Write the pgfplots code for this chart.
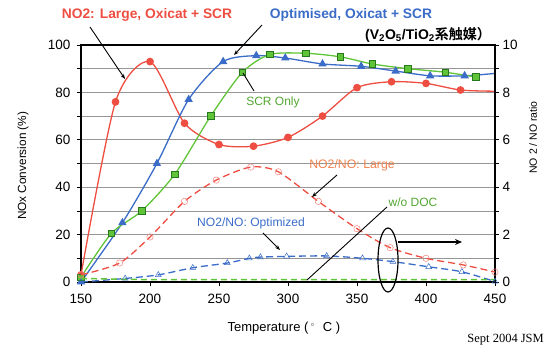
\documentclass[border=0pt]{standalone}
\usepackage{pgfplots}
\pgfplotsset{compat=1.18}
\usepackage{fontspec}
\setmainfont{Liberation Sans}
\newfontfamily\serifft{Liberation Serif}
\newfontfamily\cjk{Noto Sans CJK JP}[BoldFont={Noto Sans CJK JP Bold}]
\usetikzlibrary{arrows.meta}
\definecolor{cRed}{RGB}{238,78,66}
\definecolor{cBlue}{RGB}{58,108,200}
\definecolor{cGreen}{RGB}{96,196,56}
\definecolor{cGreenD}{RGB}{40,120,30}
\definecolor{cOrange}{RGB}{240,130,80}
\definecolor{cGrid}{RGB}{150,150,150}
\begin{document}
\begin{tikzpicture}[x=1pt,y=1pt]
\pgfplotsset{
  base/.style={
    scale only axis, width=414pt, height=237pt,
    at={(81pt,65pt)}, anchor=south west,
    xmin=150, xmax=450,
    /pgf/number format/assume math mode=true,
    ticklabel style={font=\fontsize{13.5}{15}\selectfont},
  }
}
\begin{axis}[base,
  ymin=0, ymax=100,
  axis line style={line width=1.4pt},
  xtick={150,200,...,450},
  ytick={0,20,...,100},
  minor ytick={10,30,...,90},
  ymajorgrids, yminorgrids,
  major grid style={cGrid, line width=0.7pt},
  minor grid style={cGrid, line width=0.7pt},
  tick style={black, line width=0.6pt},
  ytick pos=left, xtick pos=bottom,
  tick align=outside,
  major tick length=4pt, minor tick length=4pt,
  xticklabel style={yshift=-5pt},
  yticklabel style={xshift=-3pt},
  xlabel={Temperature (\,\raisebox{0.35ex}{\fontsize{8}{9}\selectfont$^{\circ}$}\,\, C )},
  ylabel={NOx Conversion (\%)},
  xlabel style={font=\fontsize{13}{15}\selectfont, at={(axis description cs:0.49,-0.195)}, anchor=center},
  ylabel style={font=\fontsize{11.8}{13}\selectfont, at={(axis description cs:-0.14,0.49)}, anchor=center},
  clip=false,
]
% Red solid: NO2 Large
\addplot[cRed, line width=1.3pt, smooth, tension=0.45, mark=*, mark size=3.2pt,
  mark indices={1,2,3,4,5,6,7,8,9,10,11,12}] coordinates {
(150,3) (175,76) (200,93) (225,67) (250,58) (275,57.3) (300,61) (325,70)
(350,82) (375,84.5) (400,83.8) (425,81) (450,80.5)};
% Blue solid: Optimised
\addplot[cBlue, line width=1.3pt, smooth, tension=0.45, mark=triangle*, mark size=3.6pt,
  mark indices={1,2,3,4,5,6,7,8,9,10,11,12}] coordinates {
(150,0) (180,25) (205,50) (228,77) (253,93) (277,95.5) (298,94.5) (325,92)
(353,91) (378,89) (403,87) (428,87) (450,88)};
% Green solid: SCR only
\addplot[cGreen, line width=1.3pt, smooth, tension=0.45, mark=square*, mark size=3.3pt,
  mark options={draw=cGreenD, fill=cGreen, line width=0.6pt}] coordinates {
(150,2) (172,20.5) (194,30) (218,45.5) (244,70) (267,88.5) (287,96) (313,96.5)
(338,95) (361,92) (387,90) (414,88.5) (436,86.5)};
\end{axis}
\begin{axis}[base,
  ymin=0, ymax=10,
  axis x line=none,
  axis y line*=right,
  axis line style={line width=1.4pt},
  ytick={0,2,...,10},
  minor ytick={1,3,...,9},
  tick style={black, line width=0.6pt},
  tick align=outside,
  major tick length=4pt, minor tick length=4pt,
  ylabel={NO 2 / NO ratio},
  ylabel style={font=\fontsize{10.5}{12}\selectfont, at={(axis description cs:1.092,0.61)}, anchor=center},
  clip=false,
]
% Red dashed: NO2/NO Large
\addplot[cRed, line width=1.3pt, dash pattern=on 7pt off 4pt, smooth, tension=0.45,
  mark=o, mark size=3.2pt, mark options={solid, line width=0.5pt, draw=cRed!70}] coordinates {
(150,0.3) (178,0.8) (200,1.9) (225,3.4) (248,4.3) (273,4.85) (293,4.65) (322,3.4)
(350,2.25) (374,1.45) (400,1.0) (427,0.72) (450,0.42)};
% Blue dashed: NO2/NO Optimized
\addplot[cBlue, line width=1.3pt, dash pattern=on 7pt off 4pt, smooth, tension=0.45,
  mark=triangle, mark size=3.4pt, mark options={solid, line width=0.5pt}] coordinates {
(150,0) (182,0.15) (206,0.3) (231,0.6) (256,0.8) (272,1.0) (280,1.05) (299,1.08)
(328,1.1) (354,1.0) (376,0.86) (402,0.64) (426,0.43) (450,0.02)};
% Green dashed: w/o DOC
\addplot[cGreen, line width=1.5pt, dash pattern=on 6pt off 4pt] coordinates {
(150,0.15) (175,0.12) (200,0.1) (225,0.1) (250,0.1) (275,0.1) (300,0.1) (325,0.1)
(350,0.1) (375,0.1) (400,0.1) (425,0.1) (450,0.1)};
\end{axis}
% annotations (pixel-based: x, 347-y)
\node[font=\bfseries\fontsize{13.8}{15}\selectfont, text=cRed] at (147,332) {NO2: Large, Oxicat + SCR};
\draw[line width=0.9pt, -{Stealth[length=5pt]}] (90,320) -- (125,268);
\node[font=\bfseries\fontsize{13.8}{15}\selectfont, text=cBlue] at (351,332) {Optimised, Oxicat + SCR};
\draw[line width=0.9pt, -{Stealth[length=5pt]}] (262,322) -- (234,292);
\node[font=\bfseries\fontsize{14}{16}\selectfont] at (428,312) {(V\textsubscript{2}O\textsubscript{5}/TiO\textsubscript{2}{\cjk\bfseries 系触媒）}};
\node[font=\fontsize{12}{14}\selectfont, text=cGreen!85!black] at (273,245) {SCR Only};
\draw[line width=0.9pt] (243,274) -- (254,256);
\node[font=\fontsize{12.3}{14}\selectfont, text=cOrange] at (352,182) {NO2/NO: Large};
\draw[line width=0.9pt, -{Stealth[length=5pt]}] (337,172) -- (312,150);
\node[font=\fontsize{12}{14}\selectfont, text=cGreen!85!black] at (413,145) {w/o DOC};
\draw[line width=0.9pt] (387,140) -- (307,67);
\node[font=\fontsize{12.1}{14}\selectfont, text=cBlue] at (251,124) {NO2/NO: Optimized};
\draw[line width=0.9pt, -{Stealth[length=5pt]}] (263,114) -- (280,97);
\draw[line width=1.2pt] (388,87) ellipse [x radius=10, y radius=32];
\draw[line width=1.4pt, -{Stealth[length=7pt,width=6pt]}] (398,105) -- (462,105);
\node[font=\serifft\fontsize{12.5}{14}\selectfont, anchor=base east, inner sep=1pt] at (545,4) {Sept 2004 JSM};
\pgfresetboundingbox
\useasboundingbox (0,0) rectangle (546,347);
\end{tikzpicture}
\end{document}
